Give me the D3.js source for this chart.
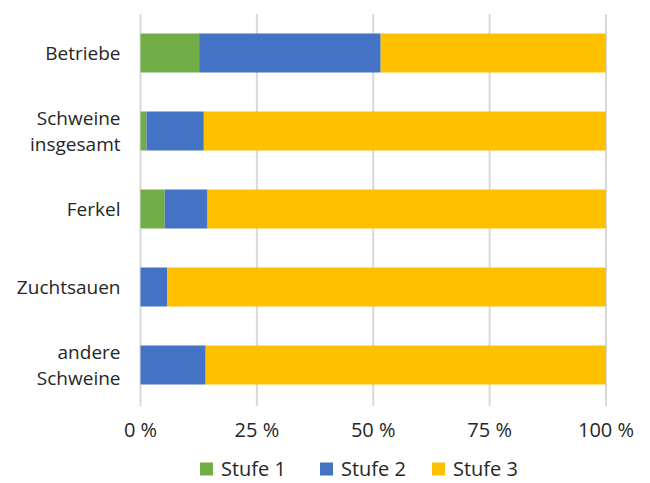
<!DOCTYPE html>
<html>
<head>
<meta charset="utf-8">
<script src="https://cdn.jsdelivr.net/npm/d3@7"></script>
<style>
  body { margin: 0; background: #fff; }
  text { font-family: "Open Sans", "Noto Sans", sans-serif; fill: #262626; }
</style>
</head>
<body>
<div id="chart"></div>
<script>
// categories top to bottom, labels may wrap on two lines
const categories = ["Betriebe", "Schweine insgesamt", "Ferkel", "Zuchtsauen", "andere Schweine"]
const categoryLines = [["Betriebe"], ["Schweine", "insgesamt"], ["Ferkel"], ["Zuchtsauen"], ["andere", "Schweine"]]
const seriesNames = ["Stufe 1", "Stufe 2", "Stufe 3"]
const stufe1 = [12.6, 1.3, 5.2, 0, 0]
const stufe2 = [39.0, 12.3, 9.2, 5.7, 14.0]
const stufe3 = [48.4, 86.4, 85.6, 94.3, 86.0]
const tickValues = [0, 25, 50, 75, 100]
const colors = ["#70ad47", "#4472c4", "#ffc000"]

const W = 650, H = 483
const margin = {top: 14, right: 44, bottom: 79, left: 140.5}
const width = W - margin.left - margin.right,
	height = H - margin.top - margin.bottom

const svg = d3.select("#chart")
	.append("svg")
		.attr("width", W)
		.attr("height", H)

const g = svg.append("g")
	.attr("transform", `translate(${margin.left}, ${margin.top})`)

const x = d3.scaleLinear().domain([0, 100]).range([0, width])
const y = d3.scaleBand().domain(categories).range([0, height]).paddingInner(0.5).paddingOuter(0.25)

// vertical gridlines
g.selectAll(".grid")
	.data(tickValues)
	.join("line")
		.attr("x1", d => x(d))
		.attr("x2", d => x(d))
		.attr("y1", 0)
		.attr("y2", height + 2)
		.attr("stroke", "#d9d9d9")
		.attr("stroke-width", 2)

// stack the series
const rows = categories.map((c, i) => ({cat: c, s1: stufe1[i], s2: stufe2[i], s3: stufe3[i]}))
const stacked = d3.stack().keys(["s1", "s2", "s3"])(rows)

g.selectAll(".series")
	.data(stacked)
	.join("g")
		.attr("fill", (d, i) => colors[i])
	.selectAll("rect")
	.data(d => d)
	.join("rect")
		.attr("x", d => x(d[0]))
		.attr("width", d => x(d[1]) - x(d[0]))
		.attr("y", d => y(d.data.cat))
		.attr("height", y.bandwidth())

// x tick labels
g.selectAll(".xlab")
	.data(tickValues)
	.join("text")
		.attr("x", d => x(d))
		.attr("y", height + 33)
		.attr("text-anchor", "middle")
		.attr("font-size", 20)
		.text(d => d + " %")

// category labels
const lineH = 26
categories.forEach((c, i) => {
	const lines = categoryLines[i]
	const cy = y(c) + y.bandwidth() / 2
	const t = g.append("text")
		.attr("text-anchor", "end")
		.attr("font-size", 19)
	lines.forEach((l, j) => {
		t.append("tspan")
			.attr("x", -20)
			.attr("y", cy + (j - (lines.length - 1) / 2) * lineH + 7)
			.text(l)
	})
})

// legend
const legendX = [200, 320, 432]
const legend = svg.append("g")
	.attr("transform", `translate(0, ${H - 14})`)
seriesNames.forEach((s, i) => {
	legend.append("rect")
		.attr("x", legendX[i])
		.attr("y", -6.5)
		.attr("width", 13)
		.attr("height", 13)
		.attr("fill", colors[i])
	legend.append("text")
		.attr("x", legendX[i] + 21)
		.attr("y", 7)
		.attr("font-size", 20)
		.text(s)
})
</script>
</body>
</html>
